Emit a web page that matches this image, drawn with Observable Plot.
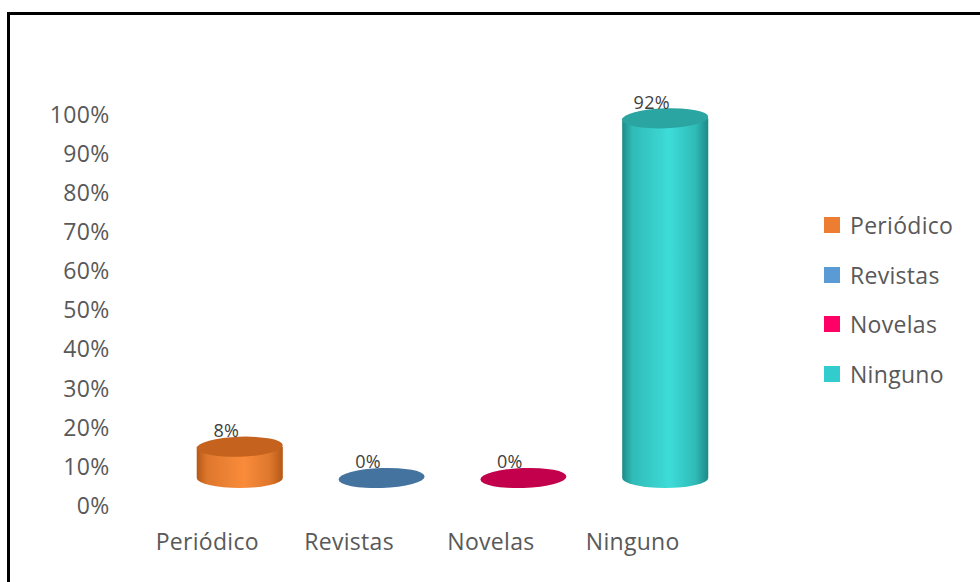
<!DOCTYPE html>
<html><head><meta charset="utf-8">
<script src="https://cdn.jsdelivr.net/npm/d3@7"></script>
<script src="https://cdn.jsdelivr.net/npm/@observablehq/plot@0.6"></script>
<style>
body{margin:0;background:#fff;}
#wrap{position:relative;width:980px;height:582px;overflow:hidden;font-family:"Open Sans",sans-serif;background:#fff;}
#chart{position:absolute;left:0;top:0;}
#frame{position:absolute;left:7px;top:12px;width:1000px;height:600px;border-left:3px solid #000;border-top:3px solid #000;pointer-events:none;}
#legend{position:absolute;left:824px;top:200px;color:#595959;font-size:23px;letter-spacing:0.3px;}
.item{display:flex;align-items:center;height:49.7px;}
.sw{width:16px;height:16px;margin-right:10px;flex:none;}
</style></head>
<body><div id="wrap"><div id="chart"></div><div id="frame"></div><div id="legend"></div></div>
<script>
const categories = ["Periódico", "Revistas", "Novelas", "Ninguno"];
const values = [8, 0, 0, 92];
const valueLabels = ["8%", "0%", "0%", "92%"];
const yTicks = [0, 10, 20, 30, 40, 50, 60, 70, 80, 90, 100];
const legendColors = ["#ED7D31", "#5B9BD5", "#FF0066", "#33CCCC"];
const bodyLight = ["#F98C3B", "#6AA6DC", "#FF2A7A", "#3DDCD8"];
const bodyDark = ["#B65816", "#3D6E9B", "#B3004A", "#1D8A88"];
const topColors = ["#C4621E", "#44739F", "#C2004B", "#2AA5A2"];
const xPadding = 0.393;

function cylinders(index, scales) {
  const x = scales.x, y = scales.y;
  let bw = typeof x.bandwidth === "function" ? x.bandwidth() : x.bandwidth;
  if (!bw) bw = (x(categories[1]) - x(categories[0])) * (1 - xPadding);
  const g = d3.create("svg:g");
  const defs = g.append("defs");
  categories.forEach((c, i) => {
    const cx = x(c) + bw / 2;
    const y0 = y(0), y1 = y(values[i]);
    const rx = bw / 2, ry = 10;
    if (values[i] > 0) {
      const id = "cylgrad" + i;
      const lg = defs.append("linearGradient").attr("id", id).attr("x1", 0).attr("x2", 1).attr("y1", 0).attr("y2", 0);
      const mid = d3.interpolateRgb(bodyDark[i], bodyLight[i])(0.6);
      lg.append("stop").attr("offset", "0%").attr("stop-color", bodyDark[i]);
      lg.append("stop").attr("offset", "12%").attr("stop-color", mid);
      lg.append("stop").attr("offset", "55%").attr("stop-color", bodyLight[i]);
      lg.append("stop").attr("offset", "85%").attr("stop-color", mid);
      lg.append("stop").attr("offset", "100%").attr("stop-color", bodyDark[i]);
      g.append("path")
        .attr("d", `M${cx - rx},${y1}L${cx - rx},${y0}A${rx},${ry} 0 0 0 ${cx + rx},${y0}L${cx + rx},${y1}Z`)
        .attr("fill", `url(#${id})`);
    }
    g.append("ellipse")
      .attr("cx", cx).attr("cy", y1).attr("rx", rx).attr("ry", ry)
      .attr("transform", `rotate(-2,${cx},${y1})`)
      .attr("fill", topColors[i]);
  });
  return g.node();
}

const data = categories.map((c, i) => ({category: c, value: values[i], label: valueLabels[i]}));

const plot = Plot.plot({
  width: 980,
  height: 582,
  marginLeft: 141,
  marginRight: 216,
  marginTop: 87,
  marginBottom: 104,
  x: {type: "band", domain: categories, padding: xPadding, round: false},
  y: {domain: [0, 100]},
  style: {fontFamily: "Open Sans", fontSize: "23px", background: "transparent", color: "#595959", letterSpacing: "0.3px"},
  marks: [
    Plot.axisY({ticks: yTicks, tickSize: 0, tickPadding: 32, dy: 28, tickFormat: d => d + "%", color: "#595959", label: null}),
    Plot.axisX({tickSize: 0, tickPadding: 55, dx: -33, color: "#595959", label: null}),
    cylinders,
    Plot.text(data, {x: "category", y: "value", text: "label", dx: -14, dy: -16, fontSize: 18, fill: "#404040"})
  ]
});
document.getElementById("chart").appendChild(plot);

const legend = d3.select("#legend");
categories.forEach((c, i) => {
  const it = legend.append("div").attr("class", "item");
  it.append("div").attr("class", "sw").style("background", legendColors[i]);
  it.append("span").text(c);
});
</script>
</body></html>
